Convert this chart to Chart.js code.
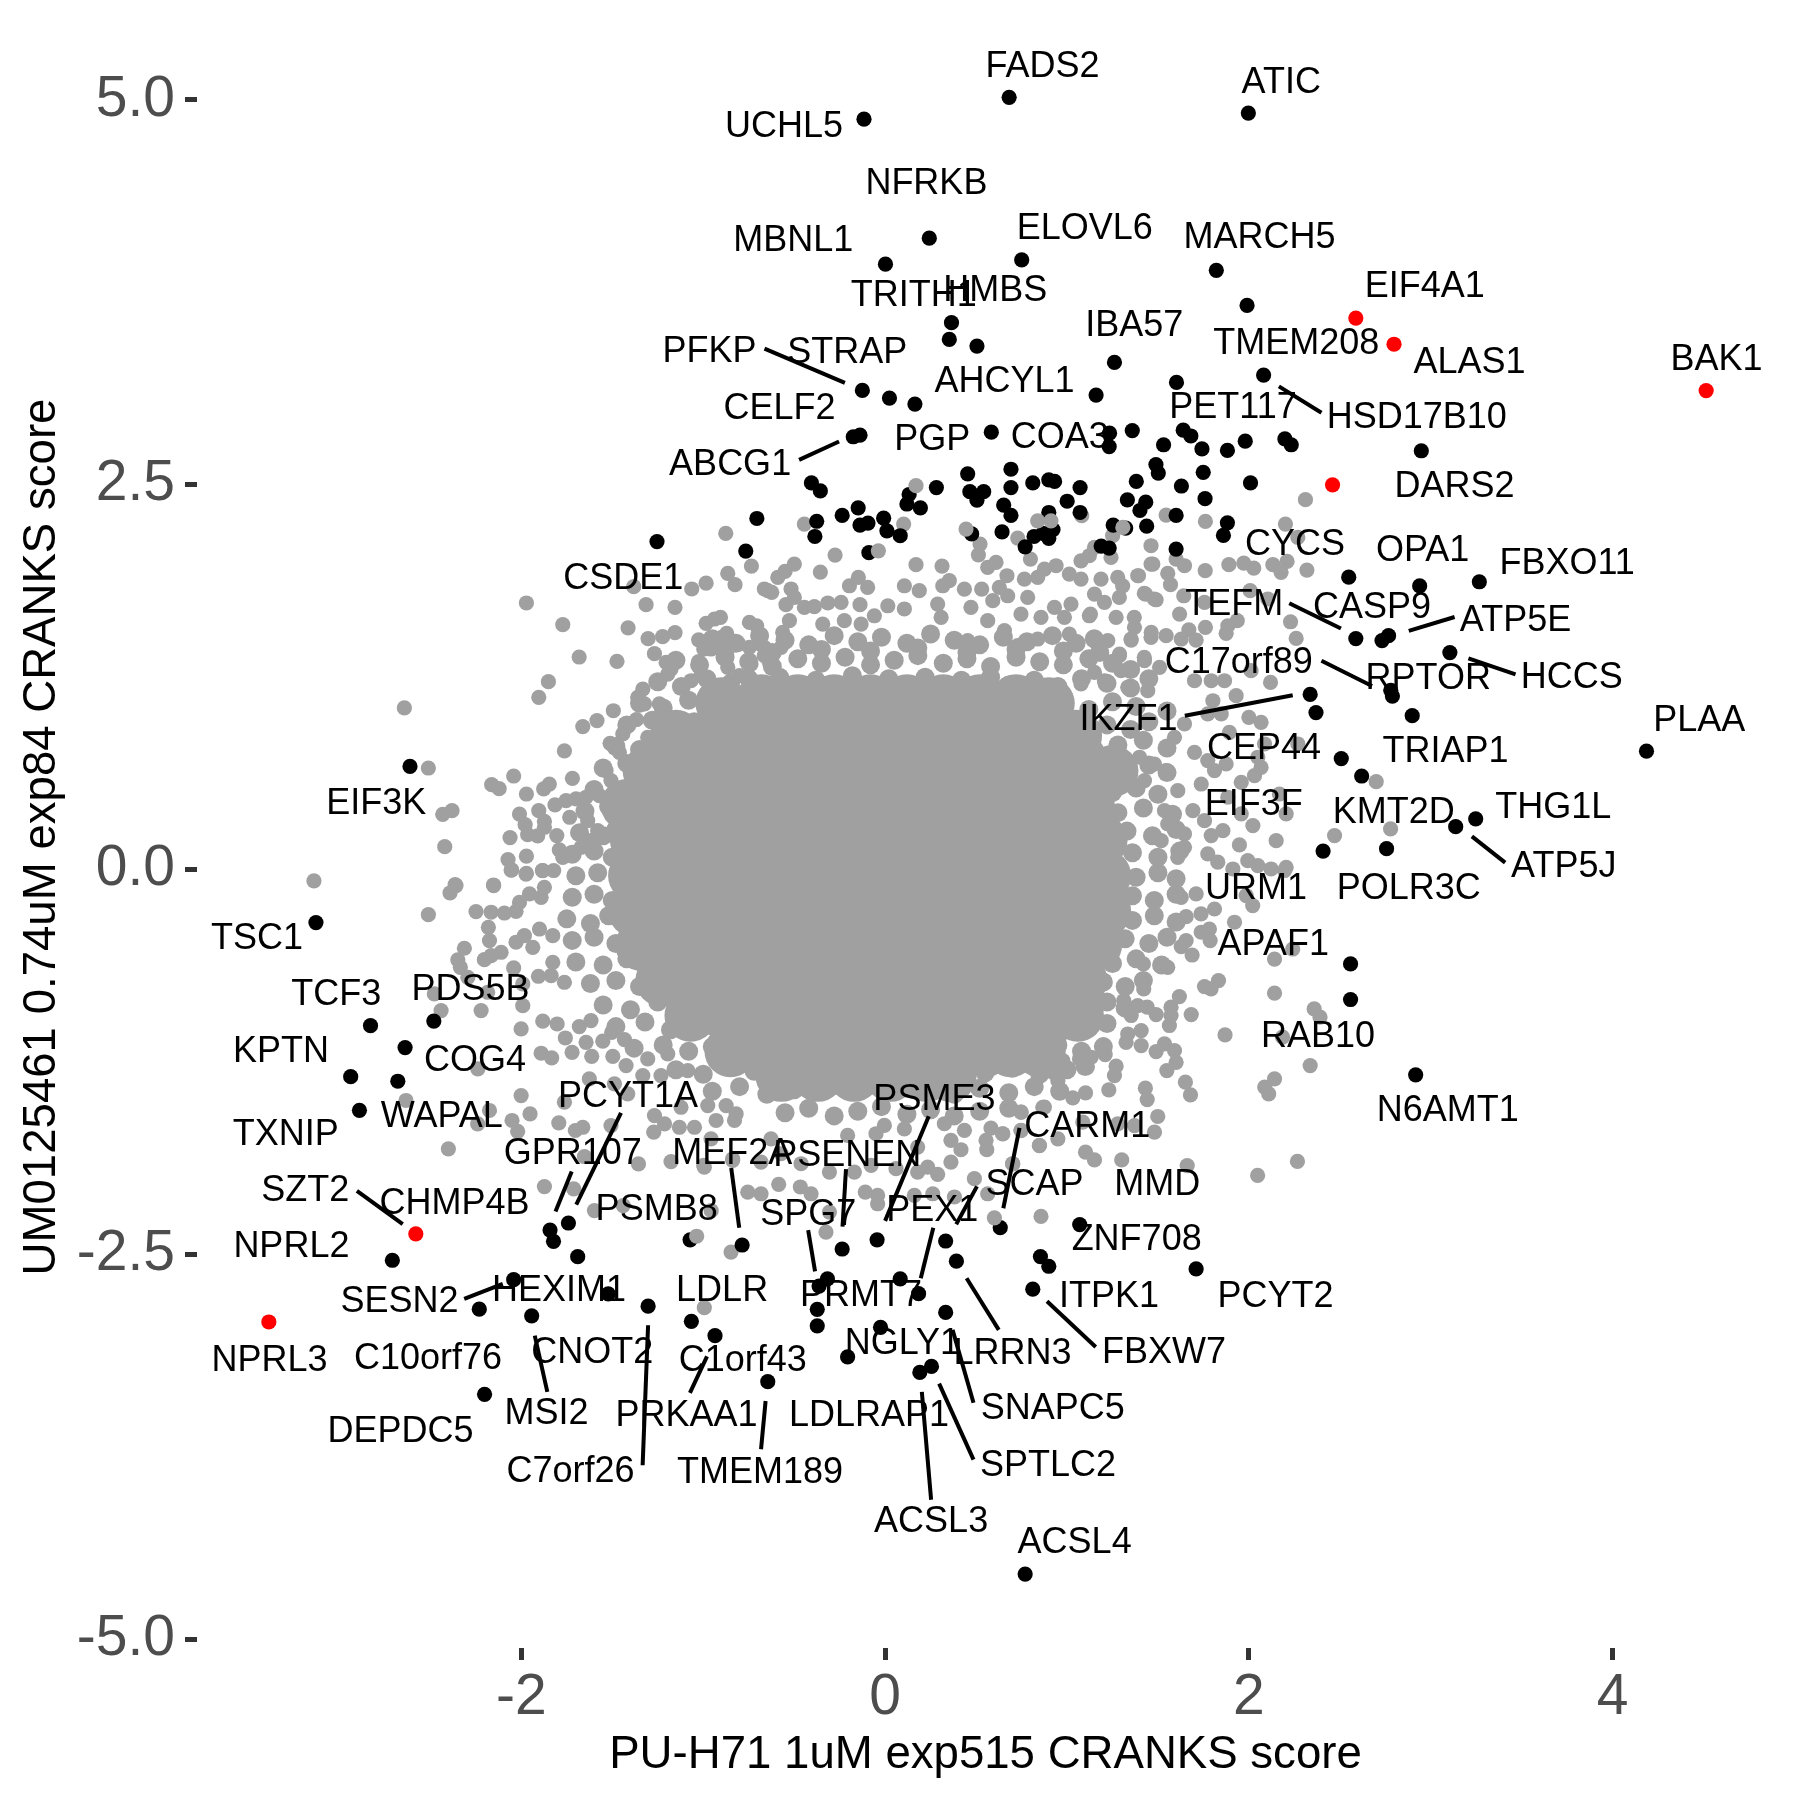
<!DOCTYPE html>
<html>
<head>
<meta charset="utf-8">
<title>CRANKS scores</title>
<script src="https://cdn.jsdelivr.net/npm/chart.js@4"></script>
<style>
  html, body { margin: 0; background: #fff; }
  canvas { display: block; }
</style>
</head>
<body>
<canvas id="scoreChart" width="1800" height="1800"></canvas>
<script>
const xTicks = [-2, 0, 2, 4];
const yTicks = [-5, -2.5, 0, 2.5, 5];

// hits in red
const redPoints = [[4.514,3.112],[2.588,3.583],[2.798,3.413],[2.460,2.500],[-2.580,-2.366],[-3.388,-2.939]];

// named / significant genes in black
const blackPoints = [
  [-0.116,4.875],[0.682,5.017],[1.997,4.915],[0.243,4.102],[0.002,3.933],[0.751,3.961],[1.821,3.893],[1.990,3.665],
  [0.365,3.553],[0.353,3.444],[0.505,3.401],[1.261,3.295],[2.081,3.213],[1.602,3.165],[1.160,3.083],[-0.125,3.113],
  [0.024,3.063],[0.164,3.024],[-0.138,2.822],[-0.175,2.812],[0.584,2.842],[1.234,2.835],[1.359,2.852],[1.232,2.748],
  [1.531,2.760],[1.639,2.855],[1.681,2.817],[1.742,2.733],[1.882,2.723],[1.980,2.783],[2.198,2.798],[2.233,2.760],
  [0.692,2.601],[0.454,2.571],[1.489,2.631],[1.502,2.576],[1.749,2.581],[1.381,2.522],[2.009,2.512],[-0.405,2.512],
  [-0.356,2.460],[0.282,2.482],[0.692,2.482],[0.812,2.512],[0.900,2.532],[0.932,2.522],[1.072,2.482],[1.629,2.492],
  [0.466,2.455],[0.542,2.455],[0.505,2.400],[0.132,2.437],[0.120,2.375],[0.194,2.350],[1.759,2.410],[1.332,2.402],
  [1.433,2.387],[1.401,2.333],[1.001,2.393],[0.652,2.368],[0.692,2.301],[1.072,2.320],[0.900,2.320],[-0.148,2.350],
  [-0.236,2.301],[-0.008,2.283],[-0.705,2.281],[-0.376,2.263],[-0.138,2.238],[-0.094,2.251],[0.010,2.201],[-0.386,2.164],
  [0.083,2.169],[1.600,2.301],[1.254,2.238],[1.323,2.219],[1.438,2.231],[1.882,2.253],[1.860,2.171],[0.643,2.194],
  [0.476,2.181],[0.923,2.209],[0.868,2.184],[0.819,2.164],[0.900,2.152],[0.770,2.097],[-1.254,2.131],[-0.766,2.069],
  [-0.089,2.059],[1.188,2.102],[1.232,2.089],[1.600,2.082],
  [2.948,2.721],[2.549,1.900],[2.939,1.843],[3.267,1.870],[2.588,1.501],[2.732,1.488],[2.768,1.520],[3.105,1.410],
  [2.780,1.165],[2.789,1.127],[2.337,1.138],[2.369,1.020],[2.898,1.000],[4.186,0.769],[2.508,0.721],[2.620,0.608],
  [3.247,0.330],[3.137,0.279],[2.408,0.120],[2.757,0.136],[2.559,-0.613],[2.559,-0.844],[2.917,-1.333],
  [-2.612,0.670],[-3.129,-0.344],[-2.829,-1.014],[-2.481,-0.984],[-2.639,-1.156],[-2.938,-1.345],[-2.679,-1.375],[-2.890,-1.564],
  [-2.709,-2.538],[-1.842,-2.342],[-1.741,-2.296],[-1.823,-2.415],[-1.690,-2.515],[-1.072,-2.405],[-0.786,-2.439],[-2.042,-2.664],
  [-1.522,-2.757],[-1.303,-2.836],[-2.231,-2.856],[-1.943,-2.899],[-1.065,-2.935],[-0.935,-3.028],[-2.202,-3.409],[-0.645,-3.327],
  [-0.044,-2.405],[-0.236,-2.465],[0.333,-2.413],[0.392,-2.544],[0.633,-2.326],[1.070,-2.306],[0.854,-2.514],[0.900,-2.577],
  [1.710,-2.594],[-0.317,-2.659],[-0.363,-2.706],[0.083,-2.659],[0.184,-2.755],[0.812,-2.726],[-0.373,-2.857],[0.333,-2.877],
  [-0.373,-2.964],[-0.025,-2.974],[-0.206,-3.166],[0.255,-3.228],[0.191,-3.267],[0.770,-4.577]
];

// the few grey points that sit over a black one
const grayTopPoints = [[0.170,2.494],[0.445,2.212],[-0.037,2.071],[0.839,2.266],[0.912,2.266],[1.307,2.223],[-1.036,-2.382],[0.601,-2.262]];

// grey points around the central mass, read one by one
const grayPoints = [
  // upper left
  [-0.876,2.184],[-0.735,1.972],[-0.865,1.924],[-0.825,1.851],[-0.984,1.861],[-1.063,1.823],[-0.664,1.823],[-0.623,1.801],
  [-1.382,1.838],[-1.314,1.721],[-1.155,1.703],[-1.972,1.732],[-1.772,1.591],[-1.413,1.571],[-1.155,1.539],[-1.223,1.513],
  [-1.303,1.500],[-1.682,1.381],[-1.474,1.353],[-1.268,1.403],[-1.851,1.221],[-1.904,1.119],[-2.643,1.050],[-2.511,0.660],
  [-1.494,1.032],[-1.584,0.968],[-1.662,0.929],[-1.763,0.771],[-2.042,0.608],[-2.163,0.552],[-2.122,0.526],[-1.719,0.593],
  [-1.846,0.556],[-1.877,0.524],[-1.972,0.491],[-1.815,0.420],[-2.381,0.383],[-2.432,0.359],[-2.421,0.149],[-2.010,0.361],
  [-1.904,0.383],[-1.979,0.292],[-1.873,0.314],[-1.965,0.227],[-1.910,0.219],[-2.062,0.208],[-1.873,0.275],[-1.805,0.221],
  [-1.734,0.340],[-1.791,0.128],[-1.972,0.087],[-2.073,0.065],[-2.053,-0.002],[-1.972,-0.024],[-1.772,0.080],[-1.884,-0.006],
  [-1.822,-0.006],[-2.359,-0.104],[-2.152,-0.104],[-3.140,-0.073],
  [-0.984,1.600],[-0.938,1.628],[-0.905,1.639],[-0.746,1.606],[-0.706,1.584],[-0.871,1.535],[-0.898,1.509],[-1.025,1.493],
  [-0.997,1.433],[-0.957,1.433],[-1.025,1.351],[-0.805,1.465],[-0.746,1.444],[-0.682,1.461],[-0.664,1.390],[-1.204,1.346],
  [-1.177,1.303],[-1.195,1.270],[-0.737,1.335],[-1.012,1.260],[-1.067,1.227],[-0.865,1.314],[-0.801,1.260],[-1.332,1.173],
  [-1.360,1.119],[-1.323,1.076],[-1.241,1.076],[-1.367,0.974],[-1.186,0.978],[-1.195,0.913],[-1.140,0.859],[-1.442,0.881],
  [-1.512,0.820],[-1.305,0.859],[-1.268,0.838],[-1.461,0.762],[-1.406,0.697],[-1.534,0.643],[-1.507,0.578],[-1.323,0.567],
  [-1.571,0.480],[-1.644,0.470],[-1.699,0.459],[-1.754,0.448],[-1.488,0.416],[-1.635,0.318],[-1.580,0.253],[-1.672,0.145],[-1.617,0.188],
  // top
  [-0.444,2.245],[0.102,2.245],[1.081,2.299],[0.729,2.154],[-0.275,2.043],[0.522,2.115],[0.513,2.045],[0.313,1.972],
  [0.170,1.981],[-0.356,1.933],[-0.499,1.985],[-0.550,1.937],[-0.590,1.898],[0.610,1.996],[0.564,1.963],[0.799,2.017],
  [0.940,1.974],[0.876,1.952],[0.670,1.909],[0.766,1.887],[0.839,1.898],[1.123,2.039],[1.077,2.006],[1.151,2.093],
  [1.251,2.169],[1.242,2.028],[1.462,2.104],[1.462,1.985],[1.389,1.909],[1.279,1.898],[1.306,1.844],[1.425,1.794],
  [1.480,1.758],[1.187,1.887],[1.077,1.887],[1.013,1.920],[1.151,1.790],[1.206,1.736],[1.288,1.768],[-0.147,1.898],
  [-0.196,1.844],[-0.096,1.833],[-0.242,1.736],[-0.315,1.732],[-0.389,1.708],[-0.138,1.721],[-0.645,1.812],[-0.517,1.823],
  [-0.499,1.768],[-0.545,1.721],[0.106,1.844],[0.188,1.812],[0.353,1.877],[0.317,1.844],[0.436,1.822],[0.531,1.822],
  [0.628,1.833],[0.015,1.714],[-0.059,1.649],[-0.526,1.617],[-0.563,1.541],[-0.572,1.444],[-0.664,1.444],[-0.636,1.346],
  [-0.444,1.703],[-0.224,1.617],[-0.343,1.595],[-0.132,1.595],[1.022,1.725],[1.123,1.649],[1.270,1.639],[1.370,1.639],
  [1.352,1.498],[1.462,1.509],[1.013,1.530],[0.931,1.703],[1.151,1.487],[1.224,1.487],[0.106,1.693],[0.289,1.725],
  [0.472,1.703],[0.592,1.747],[0.674,1.779],[0.784,1.768],[0.308,1.639],[0.564,1.617],[0.747,1.660],[0.857,1.639],
  [0.986,1.639],[0.839,1.498],[0.729,1.455],[0.454,1.487],[0.656,1.552],[1.288,1.390],[1.425,1.379],[1.151,1.281],
  [1.077,1.206],[1.334,1.184],[1.444,1.162],[1.297,1.292],[1.206,1.227],
  // upper right
  [2.311,2.403],[2.201,2.245],[1.761,2.262],[1.545,2.303],[2.269,2.158],[1.472,1.985],[1.760,1.942],[1.890,1.981],
  [1.972,1.991],[2.027,1.959],[2.132,1.981],[2.210,2.002],[2.177,1.931],[2.319,1.946],[1.646,1.974],[1.600,2.017],
  [1.393,1.909],[1.554,1.924],[1.569,1.851],[1.432,1.790],[1.490,1.753],[1.642,1.779],[1.619,1.660],[1.756,1.736],
  [2.104,1.758],[2.007,1.812],[2.229,1.610],[2.260,1.502],[1.936,1.617],[1.884,1.584],[1.875,1.535],[1.761,1.574],
  [1.670,1.558],[1.371,1.574],[1.353,1.491],[1.463,1.541],[1.545,1.520],[1.628,1.498],[1.710,1.491],[1.129,1.660],
  [1.426,1.357],[1.509,1.314],[1.289,1.400],[2.119,1.216],[1.930,1.130],[2.012,1.292],[1.866,1.227],[1.793,1.227],
  [1.701,1.227],[1.802,1.097],[1.848,1.011],[1.774,1.011],[2.000,0.989],[2.067,0.957],[1.646,0.946],[1.893,0.892],
  [2.086,0.816],[2.269,0.816],[1.701,0.762],[1.591,0.859],[1.875,0.686],[1.811,0.643],[1.774,0.708],[2.067,0.664],
  [2.031,0.610],[2.049,0.730],[1.958,0.567],[1.738,0.556],[2.700,0.571],[1.692,0.383],[1.884,0.470],[1.958,0.362],
  [2.022,0.286],[2.205,0.362],[2.168,0.491],[1.756,0.318],[1.857,0.253],[1.793,0.221],[2.779,0.264],[2.471,0.221],
  [2.150,0.188],[1.948,0.160],[1.774,0.102],[1.829,0.048],[1.994,0.058],[1.912,0.004],[2.049,0.026],[2.122,0.004],
  [2.196,-0.006],[1.646,0.145],[1.646,0.232],[1.554,0.297],[1.518,0.188],[1.609,0.080],[1.536,0.383],[1.609,0.513],
  [1.545,0.643],[1.481,0.686],[1.426,0.578],[1.399,0.730],
  // lower right
  [2.205,0.015],[2.021,-0.234],[1.985,-0.169],[1.921,-0.342],[1.710,-0.158],[1.628,-0.180],[1.811,-0.256],[1.737,-0.288],
  [1.655,-0.306],[1.787,-0.461],[1.783,-0.386],[1.738,-0.407],[1.655,-0.461],[1.628,-0.500],[1.688,-0.555],[1.554,-0.635],
  [2.241,-0.516],[2.141,-0.581],[2.141,-0.803],[1.833,-0.721],[1.792,-0.775],[1.756,-0.760],[1.422,-0.775],[1.420,-0.613],
  [1.618,-0.825],[1.572,-0.894],[1.572,-0.948],[1.563,-1.013],[1.683,-0.942],[1.490,-0.942],[1.441,-0.894],[1.389,-0.884],
  [1.312,-0.851],[1.353,-0.948],[1.408,-1.046],[1.869,-1.074],[2.359,-0.905],[2.391,-0.959],[2.185,-1.089],[2.337,-1.273],
  [2.141,-1.359],[2.087,-1.413],[2.109,-1.457],[2.267,-1.896],[2.048,-1.987],[1.408,-1.143],[1.536,-1.132],[1.490,-1.182],
  [1.591,-1.176],[1.600,-1.252],[1.549,-1.306],[1.651,-1.381],[1.679,-1.464],[1.431,-1.420],[1.441,-1.494],[1.270,-1.277],
  [1.261,-1.338],[1.230,-1.431],[1.210,-1.202],[1.334,-1.068],[1.325,-1.122],[1.102,-1.451],[1.032,-1.483],[1.111,-1.284],
  [1.069,-1.230],[1.133,-1.219],[0.950,-1.371],[0.922,-1.316],[0.977,-1.284],[0.977,-1.241],[0.867,-1.544],[0.748,-1.576],
  [1.499,-1.604],[1.481,-1.706],[1.371,-1.663],[1.279,-1.652],[1.087,-1.641],[0.950,-1.749],[0.849,-1.793],[1.102,-1.836],
  [1.151,-1.886],[1.301,-1.886],[1.661,-1.923],[0.647,-1.717],[0.748,-1.695],[0.702,-1.912],
  // lower left
  [-2.364,-0.098],[-2.392,-0.152],[-2.153,-0.100],[-2.511,-0.293],[-2.249,-0.273],[-2.166,-0.277],[-2.093,-0.282],[-2.029,-0.271],
  [-2.010,-0.213],[-1.955,-0.158],[-1.891,-0.180],[-1.873,-0.115],[-1.974,-0.029],[-2.056,-0.003],[-1.882,-0.007],[-2.181,-0.375],
  [-2.175,-0.461],[-2.111,-0.537],[-2.166,-0.559],[-2.203,-0.585],[-2.313,-0.511],[-2.349,-0.587],[-2.335,-0.635],[-2.029,-0.472],
  [-1.983,-0.429],[-1.900,-0.386],[-1.937,-0.505],[-1.827,-0.429],[-2.042,-0.639],[-2.294,-0.700],[-1.906,-0.693],[-1.836,-0.689],
  [-1.827,-0.602],[-1.763,-0.732],[-2.478,-0.808],[-2.185,-0.797],[-1.992,-0.743],[-1.992,-0.884],[-2.441,-0.916],[-2.221,-0.916],
  [-2.001,-1.035],[-1.882,-0.985],[-1.803,-1.003],[-1.681,-1.020],[-1.617,-0.981],[-1.758,-1.094],[-1.721,-1.187],[-1.613,-1.213],
  [-1.891,-1.193],[-1.833,-1.223],[-2.239,-1.295],[-1.644,-1.122],[-1.552,-1.115],[-1.503,-1.057],[-1.433,-1.104],[-1.497,-1.213],
  [-1.424,-1.273],[-1.332,-1.338],[-1.232,-1.338],[-1.305,-1.230],[-1.195,-1.197],[-1.085,-1.306],[-1.626,-1.360],[-2.001,-1.468],
  [-2.634,-1.500],[-2.175,-1.565],[-2.051,-1.630],[-2.020,-1.700],[-1.952,-1.587],[-2.240,-1.652],[-1.763,-1.511],[-1.794,-1.645],
  [-1.703,-1.695],[-1.662,-1.674],[-1.507,-1.663],[-1.488,-1.392],[-1.415,-1.457],[-2.401,-1.814],[-1.653,-1.864],[-1.356,-1.912],
  [-1.177,-1.897],[-0.997,-1.922],[-0.838,-1.879],[-1.873,-2.059],[-1.712,-2.074],[-0.755,-2.096],[-1.598,-2.215],[-1.268,-1.598],
  [-1.213,-1.652],[-1.272,-1.706],[-1.122,-1.544],[-1.131,-1.674],[-1.048,-1.674],[-0.929,-1.630],[-0.874,-1.533],[-0.819,-1.587],
  [-0.828,-1.630],[-0.975,-1.533],[-1.440,-2.183],[-0.847,-2.485],[-0.994,-2.846],[-0.956,-2.216],
  // bottom
  [-0.325,-2.355],[-0.682,-2.106],[-0.585,-2.045],[-0.466,-2.062],[-0.407,-2.106],[-0.306,-2.225],[-0.109,-2.095],[-0.041,-2.117],
  [-0.041,-2.171],[0.161,-2.117],[0.262,-2.106],[0.381,-2.127],[0.491,-2.008],[0.564,-2.106],[0.857,-2.253],[0.289,-1.980],
  [0.234,-1.933],[0.179,-1.965],[0.060,-1.943],[0.362,-1.900],[0.417,-1.820],[0.362,-1.759],[0.326,-1.651],[0.436,-1.694],
  [0.179,-1.803],[0.555,-1.759],[0.559,-1.820],[0.582,-1.679],[0.646,-1.716],[0.701,-1.911],[0.848,-1.792],[0.106,-1.684],
  [-0.004,-1.662],[-0.050,-1.716],[-0.206,-1.727],[-0.306,-1.965],[-0.169,-1.965],[-0.077,-1.922],[-0.462,-1.911],[-0.572,-1.846],
  [-0.682,-1.900],[-0.838,-1.889],[-0.994,-1.933],[-0.627,-1.749],[-0.957,-1.749],[0.876,-1.543],[0.747,-1.575],[0.747,-1.694]
];

// dense band round the mass: points almost touch, too many to read singly,
// so this is a rough hand estimate drawn with slightly bigger markers
const bandPoints = [
  [-0.95,1.50],[-0.82,1.47],[-0.69,1.52],[-0.55,1.49],[-0.42,1.46],[-0.28,1.52],[-0.15,1.48],[-0.02,1.51],[0.12,1.47],[0.25,1.53],[0.38,1.49],[0.52,1.46],[0.65,1.51],[0.78,1.48],[0.92,1.52],[1.05,1.47],[1.15,1.50],
  [-0.88,1.42],[-0.62,1.41],[-0.35,1.43],[-0.08,1.42],[0.18,1.44],[0.45,1.41],[0.72,1.43],[0.98,1.42],[1.18,1.41],
  [-1.15,1.36],[-1.02,1.33],[-0.88,1.38],[-0.75,1.35],[-0.62,1.32],[-0.48,1.37],[-0.35,1.34],[-0.22,1.38],[-0.08,1.33],[0.05,1.36],[0.18,1.39],[0.32,1.34],[0.45,1.37],[0.58,1.32],[0.72,1.38],[0.85,1.35],[0.98,1.33],[1.12,1.37],[1.25,1.34],[1.35,1.30],
  [-1.25,1.22],[-1.12,1.19],[-0.98,1.24],[-0.85,1.21],[-0.75,1.24],[-0.58,1.25],[-0.38,1.23],[-0.18,1.26],[0.02,1.24],[0.22,1.25],[0.42,1.23],[0.58,1.25],[0.68,1.20],[0.82,1.23],[0.95,1.19],[1.08,1.24],[1.22,1.21],[1.35,1.18],[1.45,1.24],
  [-1.35,1.08],[-1.22,1.05],[-1.08,1.10],[-0.95,1.07],[-0.85,1.10],[0.72,1.06],[0.85,1.10],[0.98,1.07],[1.12,1.04],[1.25,1.09],[1.38,1.06],[1.55,1.03],
  [-1.42,0.94],[-1.28,0.97],[-1.15,0.92],[-1.05,0.96],[0.95,0.93],[1.08,0.97],[1.22,0.94],[1.35,0.91],[1.45,0.96],
  [-1.48,0.80],[-1.35,0.78],[-1.22,0.83],[-1.10,0.79],[1.02,0.82],[1.15,0.78],[1.28,0.81],[1.42,0.84],[1.55,0.79],
  [-1.55,0.66],[-1.42,0.69],[-1.30,0.64],[1.20,0.67],[1.32,0.64],[1.45,0.68],[1.55,0.63],
  [-1.60,0.52],[-1.47,0.50],[-1.35,0.54],[1.25,0.50],[1.38,0.53],[1.50,0.49],
  [-1.65,0.38],[-1.52,0.41],[-1.42,0.36],[1.28,0.37],[1.42,0.40],[1.58,0.36],
  [-1.68,0.24],[-1.55,0.22],[-1.48,0.26],[1.33,0.25],[1.47,0.22],[1.60,0.26],
  [-1.72,0.10],[-1.60,0.12],[-1.50,0.08],[1.36,0.11],[1.50,0.08],[1.62,0.12],
  [-1.70,-0.04],[-1.58,-0.02],[1.38,-0.05],[1.50,-0.02],[1.60,-0.06],
  [-1.72,-0.18],[-1.60,-0.16],[-1.50,-0.20],[1.36,-0.17],[1.48,-0.20],[1.60,-0.16],
  [-1.75,-0.32],[-1.62,-0.35],[-1.52,-0.30],[1.36,-0.33],[1.48,-0.30],[1.60,-0.34],
  [-1.72,-0.46],[-1.60,-0.44],[-1.48,-0.48],[1.32,-0.45],[1.45,-0.48],[1.55,-0.44],
  [-1.70,-0.60],[-1.55,-0.62],[-1.42,-0.58],[1.25,-0.61],[1.38,-0.58],[1.52,-0.62],
  [-1.62,-0.74],[-1.48,-0.72],[-1.35,-0.76],[1.20,-0.73],[1.32,-0.76],[1.42,-0.72],
  [-1.55,-0.88],[-1.40,-0.91],[-1.25,-0.86],[1.08,-0.89],[1.22,-0.86],[1.32,-0.90],
  [-1.48,-1.02],[-1.32,-0.99],[-1.18,-1.04],[0.95,-1.01],[1.08,-1.04],[1.22,-1.00],
  [-1.38,-1.16],[-1.22,-1.14],[-1.08,-1.18],[-0.95,-1.15],[0.82,-1.17],[0.95,-1.14],[1.08,-1.18],[1.20,-1.15],
  [-1.15,-1.30],[-1.00,-1.33],[-0.85,-1.28],[-0.72,-1.31],[0.55,-1.32],[0.70,-1.29],[0.85,-1.33],[1.00,-1.30],[1.10,-1.28],
  [-0.95,-1.44],[-0.80,-1.41],[-0.65,-1.46],[-0.50,-1.43],[0.38,-1.46],[0.52,-1.42],[0.68,-1.45],[0.82,-1.41],[0.96,-1.44],
  [-0.55,-1.58],[-0.42,-1.55],[-0.28,-1.60],[-0.15,-1.57],[-0.02,-1.54],[0.12,-1.59],[0.25,-1.56],[0.38,-1.60],[0.52,-1.57],[0.68,-1.55]
];

// central mass: points overlap into a solid shape here and cannot be told apart,
// so this is a rough estimate of its extent, drawn with bigger markers
const massPoints = [
  [-0.90,1.08],[-0.68,1.10],[-0.48,1.10],[-0.28,1.10],[-0.08,1.10],[0.12,1.10],[0.32,1.10],[0.52,1.10],[0.72,1.10],[0.90,1.08],
  [-1.15,0.87],[-0.95,0.87],[-0.75,0.87],[-0.55,0.87],[-0.35,0.87],[-0.15,0.87],[0.05,0.87],[0.25,0.87],[0.45,0.87],[0.65,0.87],[0.85,0.87],[1.05,0.87],
  [-1.30,0.64],[-1.15,0.64],[-0.95,0.64],[-0.75,0.64],[-0.55,0.64],[-0.35,0.64],[-0.15,0.64],[0.05,0.64],[0.25,0.64],[0.45,0.64],[0.65,0.64],[0.85,0.64],[1.05,0.64],[1.25,0.64],
  [-1.42,0.42],[-1.28,0.42],[-1.08,0.42],[-0.88,0.42],[-0.68,0.42],[-0.48,0.42],[-0.28,0.42],[-0.08,0.42],[0.12,0.42],[0.32,0.42],[0.52,0.42],[0.72,0.42],[0.92,0.42],[1.12,0.42],
  [-1.37,0.19],[-1.17,0.19],[-0.97,0.19],[-0.77,0.19],[-0.57,0.19],[-0.37,0.19],[-0.17,0.19],[0.03,0.19],[0.23,0.19],[0.43,0.19],[0.63,0.19],[0.83,0.19],[1.03,0.19],[1.19,0.19],
  [-1.38,-0.04],[-1.18,-0.04],[-0.98,-0.04],[-0.78,-0.04],[-0.58,-0.04],[-0.38,-0.04],[-0.18,-0.04],[0.02,-0.04],[0.22,-0.04],[0.42,-0.04],[0.62,-0.04],[0.82,-0.04],[1.02,-0.04],[1.21,-0.04],
  [-1.38,-0.27],[-1.18,-0.27],[-0.98,-0.27],[-0.78,-0.27],[-0.58,-0.27],[-0.38,-0.27],[-0.18,-0.27],[0.02,-0.27],[0.22,-0.27],[0.42,-0.27],[0.62,-0.27],[0.82,-0.27],[1.02,-0.27],[1.21,-0.27],
  [-1.34,-0.49],[-1.14,-0.49],[-0.94,-0.49],[-0.74,-0.49],[-0.54,-0.49],[-0.34,-0.49],[-0.14,-0.49],[0.06,-0.49],[0.26,-0.49],[0.46,-0.49],[0.66,-0.49],[0.86,-0.49],[1.06,-0.49],[1.16,-0.49],
  [-1.23,-0.72],[-1.03,-0.72],[-0.83,-0.72],[-0.63,-0.72],[-0.43,-0.72],[-0.23,-0.72],[-0.03,-0.72],[0.17,-0.72],[0.37,-0.72],[0.57,-0.72],[0.77,-0.72],[0.97,-0.72],[1.08,-0.72],
  [-1.07,-0.95],[-0.87,-0.95],[-0.67,-0.95],[-0.47,-0.95],[-0.27,-0.95],[-0.07,-0.95],[0.13,-0.95],[0.33,-0.95],[0.53,-0.95],[0.73,-0.95],[0.94,-0.95],[1.06,-0.95],
  [-0.85,-1.18],[-0.65,-1.18],[-0.45,-1.18],[-0.25,-1.18],[-0.05,-1.18],[0.15,-1.18],[0.35,-1.18],[0.55,-1.18],[0.69,-1.18],[0.85,-1.18],
  [-0.57,-1.34],[-0.37,-1.34],[-0.17,-1.34],[0.03,-1.34],[0.23,-1.34],[0.36,-1.34]
];

// gene name with the centre of its text, in data units
const geneLabels = [
  ['FADS2',0.865,5.227],['ATIC',2.178,5.123],['UCHL5',-0.556,4.840],['NFRKB',0.227,4.467],['ELOVL6',1.098,4.176],['MARCH5',2.058,4.116],
  ['MBNL1',-0.505,4.094],['EIF4A1',2.967,3.796],['TRITH1',0.158,3.736],['HMBS',0.606,3.773],['IBA57',1.370,3.542],['TMEM208',2.260,3.430],
  ['PFKP',-0.966,3.378],['STRAP',-0.208,3.371],['ALAS1',3.213,3.304],['BAK1',4.571,3.326],['AHCYL1',0.657,3.177],['CELF2',-0.581,3.005],
  ['PET117',1.913,3.013],['HSD17B10',2.923,2.946],['PGP',0.259,2.804],['COA3',0.960,2.819],['ABCG1',-0.852,2.640],['DARS2',3.131,2.498],
  ['CYCS',2.254,2.118],['OPA1',2.955,2.081],['FBXO11',3.750,1.998],['CSDE1',-1.439,1.902],['TEFM',1.919,1.730],['CASP9',2.677,1.715],
  ['ATP5E',3.466,1.626],['C17orf89',1.944,1.357],['RPTOR',2.986,1.253],['HCCS',3.775,1.260],['IKZF1',1.338,0.984],['PLAA',4.476,0.977],
  ['CEP44',2.083,0.798],['TRIAP1',3.081,0.776],['EIF3K',-2.797,0.440],['EIF3F',2.027,0.433],['KMT2D',2.797,0.380],['THG1L',3.674,0.410],
  ['ATP5J',3.731,0.030],['URM1',2.039,-0.112],['POLR3C',2.879,-0.112],['TSC1',-3.453,-0.440],['APAF1',2.134,-0.477],['PDS5B',-2.279,-0.768],
  ['TCF3',-3.018,-0.805],['RAB10',2.380,-1.074],['KPTN',-3.321,-1.171],['COG4',-2.254,-1.230],['PSME3',0.271,-1.484],['PCYT1A',-1.414,-1.462],
  ['N6AMT1',3.093,-1.559],['WAPAL',-2.437,-1.596],['TXNIP',-3.295,-1.715],['CARM1',1.111,-1.663],['GPR107',-1.717,-1.834],['MEF2A',-0.840,-1.834],
  ['PSENEN',-0.208,-1.849],['SZT2',-3.188,-2.073],['SCAP',0.821,-2.036],['MMD',1.496,-2.036],['CHMP4B',-2.367,-2.163],['PSMB8',-1.256,-2.200],
  ['SPG7',-0.423,-2.230],['PEX1',0.259,-2.207],['NPRL2',-3.264,-2.438],['ZNF708',1.383,-2.394],['HEXIM1',-1.793,-2.722],['LDLR',-0.896,-2.722],
  ['PRMT7',-0.133,-2.759],['ITPK1',1.231,-2.767],['PCYT2',2.146,-2.767],['SESN2',-2.670,-2.796],['CNOT2',-1.610,-3.125],['NGLY1',0.095,-3.072],
  ['LRRN3',0.701,-3.132],['FBXW7',1.534,-3.125],['C10orf76',-2.513,-3.169],['C1orf43',-0.783,-3.177],['NPRL3',-3.384,-3.177],['MSI2',-1.862,-3.527],
  ['PRKAA1',-1.092,-3.535],['LDLRAP1',-0.088,-3.535],['SNAPC5',0.922,-3.490],['DEPDC5',-2.664,-3.639],['TMEM189',-0.688,-3.908],['C7orf26',-1.730,-3.900],
  ['SPTLC2',0.896,-3.863],['ACSL3',0.253,-4.228],['ACSL4',1.042,-4.362]
];

// repel segments: x1, y1, x2, y2 in data units
const repelLines = [
  [-0.663,3.385,-0.221,3.162],[-0.473,2.662,-0.253,2.781],[2.165,3.139,2.399,2.968],[2.222,1.730,2.506,1.566],
  [2.879,1.551,3.131,1.641],[3.207,1.372,3.466,1.268],[2.399,1.357,2.677,1.193],[1.648,0.999,2.241,1.133],
  [3.226,0.216,3.409,0.045],[-2.904,-2.088,-2.652,-2.304],[-1.452,-1.581,-1.698,-2.177],[-1.723,-1.961,-1.812,-2.222],
  [-0.846,-1.939,-0.802,-2.327],[-0.215,-1.946,-0.234,-2.319],[0.240,-1.603,0,-2.282],[0.739,-1.678,0.650,-2.200],
  [0.505,-2.058,0.391,-2.304],[0.265,-2.327,0.196,-2.655],[-0.423,-2.342,-0.385,-2.610],[0.448,-2.655,0.625,-2.990],
  [0.890,-2.804,1.158,-3.102],[0.371,-2.990,0.486,-3.464],[0.297,-3.339,0.486,-3.833],[0.202,-3.393,0.253,-4.094],
  [-2.314,-2.789,-2.102,-2.692],[-1.926,-3.028,-1.857,-3.393],[-1.303,-2.960,-1.333,-3.870],[-0.979,-3.162,-1.073,-3.400],
  [-0.657,-3.452,-0.682,-3.766]
];

const fontName = '"Liberation Sans", Arial, sans-serif';

function toXY(points) {
  return points.map(p => ({ x: p[0], y: p[1] }));
}

function dots(label, points, color, radius, order) {
  return {
    label: label,
    data: toXY(points),
    backgroundColor: color,
    borderWidth: 0,
    pointRadius: radius,
    pointHoverRadius: radius,
    order: order
  };
}

// ggrepel style labels and their segments
const repelPlugin = {
  id: 'repel',
  afterDatasetsDraw(chart) {
    const ctx = chart.ctx;
    const xs = chart.scales.x;
    const ys = chart.scales.y;
    ctx.save();
    ctx.strokeStyle = '#000';
    ctx.lineWidth = 4;
    repelLines.forEach(s => {
      ctx.beginPath();
      ctx.moveTo(xs.getPixelForValue(s[0]), ys.getPixelForValue(s[1]));
      ctx.lineTo(xs.getPixelForValue(s[2]), ys.getPixelForValue(s[3]));
      ctx.stroke();
    });
    ctx.fillStyle = '#000';
    ctx.font = '36px ' + fontName;
    ctx.textAlign = 'center';
    ctx.textBaseline = 'middle';
    geneLabels.forEach(l => {
      ctx.fillText(l[0], xs.getPixelForValue(l[1]), ys.getPixelForValue(l[2]) + 2);
    });
    ctx.restore();
  }
};

new Chart(document.getElementById('scoreChart'), {
  type: 'scatter',
  data: {
    datasets: [
      dots('mass', massPoints, '#A0A0A0', 26, 6),
      dots('band', bandPoints, '#A0A0A0', 9.5, 5),
      dots('other', grayPoints, '#A0A0A0', 7.6, 4),
      dots('gene', blackPoints, '#000000', 7.6, 3),
      dots('other over', grayTopPoints, '#A0A0A0', 7.6, 2),
      dots('hit', redPoints, '#FF0000', 7.6, 1)
    ]
  },
  plugins: [repelPlugin],
  options: {
    responsive: false,
    animation: false,
    // Chart.js keeps at least the biggest marker radius free round the area,
    // so the axis limits below are set for that area and not the usual ggplot one
    layout: { padding: { top: 20, right: 20, left: 0, bottom: 0 } },
    plugins: { legend: { display: false }, tooltip: { enabled: false } },
    scales: {
      x: {
        type: 'linear',
        min: -3.783,
        max: 4.887,
        afterBuildTicks(scale) { scale.ticks = xTicks.map(v => ({ value: v })); },
        afterFit(scale) {
          scale.height = 152;
          scale.paddingLeft = 0;
          scale.paddingRight = 0;
        },
        border: { display: false },
        grid: { drawOnChartArea: false, tickLength: 12, tickWidth: 5, tickColor: '#333333' },
        ticks: {
          color: '#4D4D4D',
          font: { family: fontName, size: 57 },
          padding: 4,
          maxRotation: 0,
          callback: v => String(v)
        },
        title: {
          display: true,
          text: 'PU-H71 1uM exp515 CRANKS score',
          color: '#000',
          font: { family: fontName, size: 45.6 },
          padding: { top: 0, bottom: 17 }
        }
      },
      y: {
        type: 'linear',
        min: -5.057,
        max: 5.4805,
        afterBuildTicks(scale) { scale.ticks = yTicks.map(v => ({ value: v })); },
        afterFit(scale) {
          scale.width = 197;
          scale.paddingTop = 0;
          scale.paddingBottom = 0;
        },
        border: { display: false },
        grid: { drawOnChartArea: false, tickLength: 12, tickWidth: 5, tickColor: '#333333' },
        ticks: {
          color: '#4D4D4D',
          font: { family: fontName, size: 57 },
          padding: 10,
          callback: v => v.toFixed(1)
        },
        title: {
          display: true,
          text: 'UM0125461 0.74uM exp84 CRANKS score',
          color: '#000',
          font: { family: fontName, size: 45.6 },
          padding: { top: 15, bottom: 0 }
        }
      }
    }
  }
});
</script>
</body>
</html>
